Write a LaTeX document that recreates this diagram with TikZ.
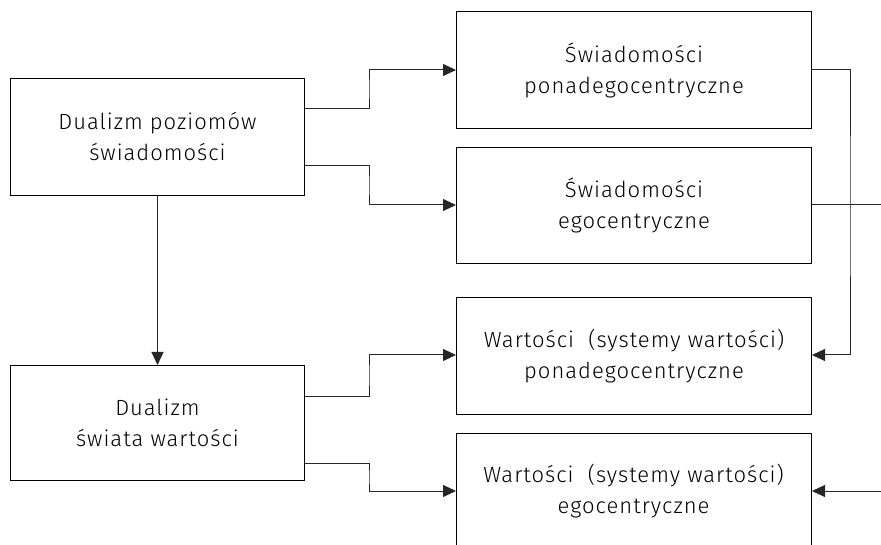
\documentclass[tikz,border=0pt]{standalone}
\usepackage{fontspec}
\setmainfont{Fira Sans}[UprightFont={* Light},LetterSpace=4.5]
\usetikzlibrary{arrows.meta}
\begin{document}
\begin{tikzpicture}[x=1pt,y=-1pt,
  box/.style={draw=black,line width=1pt,rectangle,inner sep=0pt,anchor=north west,
    align=center,font=\fontsize{22}{31}\selectfont,text=black},
  link/.style={draw=black!85,line width=1pt,-{Triangle[length=13pt,width=12pt]}},
  plain/.style={draw=black!85,line width=1pt}]
\useasboundingbox (0,0) rectangle (881,545);
\begin{scope}
\clip (0,0) rectangle (881,545);
% left column
\node[box,minimum width=294pt,minimum height=117pt] (a) at (10,78) {Dualizm poziomów\\świadomości};
\node[box,minimum width=294pt,minimum height=115pt] (b) at (10,365) {Dualizm\\świata wartości};
% right column
\node[box,minimum width=355pt,minimum height=117pt] (r1) at (456,11) {Świadomości\\ponadegocentryczne};
\node[box,minimum width=355pt,minimum height=116pt] (r2) at (456,147) {Świadomości\\egocentryczne};
\node[box,minimum width=355pt,minimum height=117pt] (r3) at (456,297) {Wartości\ \ (systemy wartości)\\ponadegocentryczne};
\node[box,minimum width=355pt,minimum height=124pt] (r4) at (456,433) {};
\node[align=center,font=\fontsize{22}{31}\selectfont,text=black] (r4t) at (633.5,491) {Wartości\ \ (systemy wartości)\\egocentryczne};
\coordinate (e2) at (881,205);
\coordinate (e4) at (881,491);
% connectors
\draw[link] (a.east |- 0,109) -| (369,89) |- (r1.west |- 0,70);
\draw[link] (a.east |- 0,166) -| (369,186) |- (r2.west |- 0,205);
\draw[link] (a.south) -- (b.north);
\draw[link] (b.east |- 0,396) -| (369,375) |- (r3.west |- 0,355);
\draw[link] (b.east |- 0,463) -| (369,477) |- (r4.west |- 0,491);
\draw[link] (r1.east |- 0,70) -| (850,200) |- (r3.east |- 0,355);
\draw[plain] (r2.east |- 0,205) -- (e2);
\draw[link] (e4) -- (r4.east |- 0,491);
\end{scope}
\end{tikzpicture}
\end{document}
